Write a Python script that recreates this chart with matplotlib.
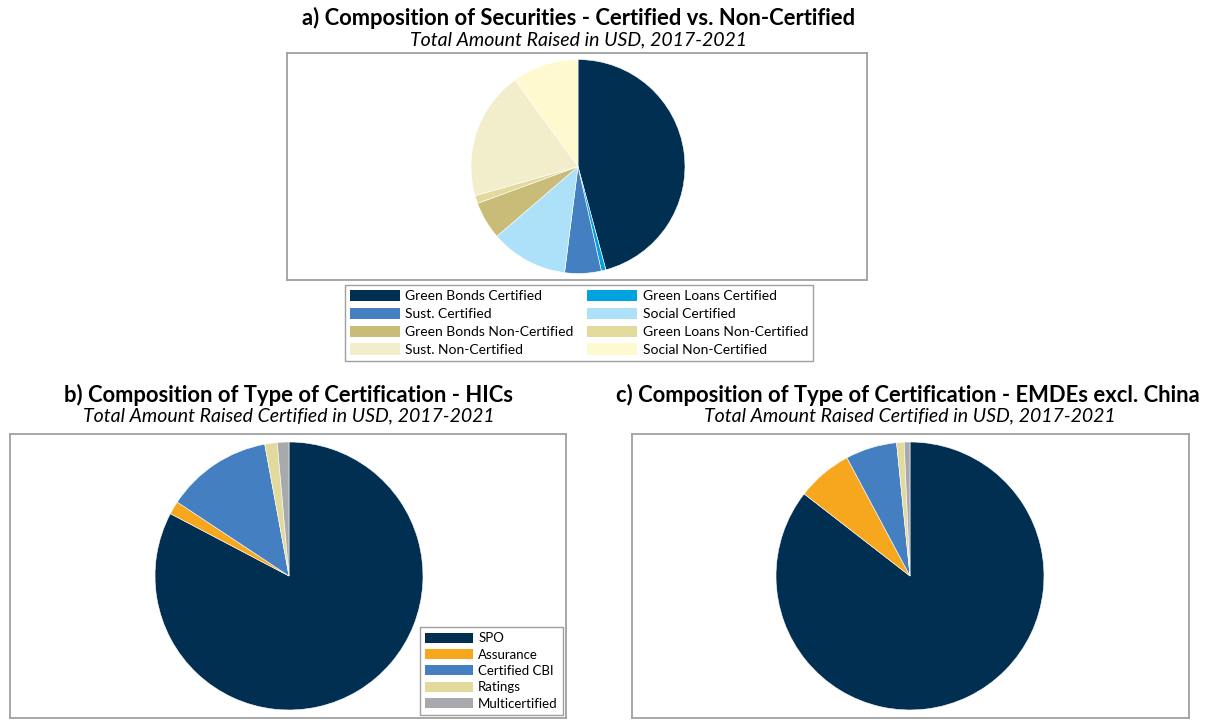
import matplotlib.pyplot as plt
from matplotlib.patches import Patch

plt.rcParams['font.family'] = ['Lato', 'DejaVu Sans']

# a) securities composition (share of total, %)
sec_labels = ['Green Bonds Certified', 'Green Loans Certified', 'Sust. Certified',
              'Social Certified', 'Green Bonds Non-Certified', 'Green Loans Non-Certified',
              'Sust. Non-Certified', 'Social Non-Certified']
sec_values = [45.8, 0.7, 5.5, 11.7, 5.7, 1.2, 19.4, 10.0]
sec_colors = ['#002f52', '#00a3e0', '#437fc1', '#ade1fa', '#c8bc78', '#e2da9c',
              '#f2eecb', '#fff9d0']

# b) / c) type of certification (%)
cert_labels = ['SPO', 'Assurance', 'Certified CBI', 'Ratings', 'Multicertified']
hic_values = [82.7, 1.6, 12.8, 1.5, 1.4]
emde_values = [85.5, 6.7, 6.2, 0.9, 0.7]
cert_colors = ['#002f52', '#f7a71d', '#437fc1', '#e2da9c', '#a8a9ad']

W, H = 1216, 720
fig = plt.figure(figsize=(12.16, 7.2), dpi=100)


def box(x0, y0, x1, y1):
    return fig.add_axes([x0 / W, 1 - y1 / H, (x1 - x0) / W, (y1 - y0) / H])


def draw_pie(ax, vals, cols, cx_px, x0, x1, y0, y1, r_px):
    ax.pie(vals, colors=cols, startangle=90, counterclock=False, radius=1,
           wedgeprops=dict(edgecolor='white', linewidth=0.4))
    s = 1.0 / r_px  # data units per pixel
    ax.set_xlim((x0 - cx_px) * s, (x1 - cx_px) * s)
    ax.set_ylim(-(y1 - y0) / 2 * s, (y1 - y0) / 2 * s)
    ax.set_aspect('auto')
    ax.set_frame_on(True)
    ax.set_xticks([])
    ax.set_yticks([])
    for sp in ax.spines.values():
        sp.set_visible(True)
        sp.set_color('#a0a0a0')
        sp.set_linewidth(1.3)


ax_a = box(287, 53, 867, 280)
draw_pie(ax_a, sec_values, sec_colors, 578, 287, 867, 53, 280, 107)

ax_b = box(10, 434, 566, 718)
draw_pie(ax_b, hic_values, cert_colors, 289, 10, 566, 434, 718, 134)

ax_c = box(632, 434, 1189, 718)
draw_pie(ax_c, emde_values, cert_colors, 910, 632, 1189, 434, 718, 134)

# titles
fig.text(579 / W, 1 - 18 / H, 'a) Composition of Securities - Certified vs. Non-Certified',
         ha='center', va='center', fontsize=15.8, fontweight='bold')
fig.text(579 / W, 1 - 40 / H, 'Total Amount Raised in USD, 2017-2021',
         ha='center', va='center', fontsize=14, style='italic')
fig.text(289 / W, 1 - 395 / H, 'b) Composition of Type of Certification - HICs',
         ha='center', va='center', fontsize=15.8, fontweight='bold')
fig.text(289 / W, 1 - 416 / H, 'Total Amount Raised Certified in USD, 2017-2021',
         ha='center', va='center', fontsize=14, style='italic')
fig.text(908 / W, 1 - 395 / H, 'c) Composition of Type of Certification - EMDEs excl. China',
         ha='center', va='center', fontsize=15.8, fontweight='bold')
fig.text(910 / W, 1 - 416 / H, 'Total Amount Raised Certified in USD, 2017-2021',
         ha='center', va='center', fontsize=14, style='italic')

# legend a: two columns, filled row by row
order = [0, 2, 4, 6, 1, 3, 5, 7]
handles = [Patch(facecolor=sec_colors[i], edgecolor='none') for i in order]
labels = [sec_labels[i] for i in order]
leg = fig.legend(handles, labels, ncol=2, loc='upper center',
                 bbox_to_anchor=(579 / W, 1 - 285 / H), fontsize=10,
                 handlelength=3.6, handleheight=0.9, handletextpad=0.4,
                 labelspacing=0.38, columnspacing=1.0, borderpad=0.35,
                 fancybox=False, framealpha=1, borderaxespad=0)
leg.get_frame().set_edgecolor('#a0a0a0')
leg.get_frame().set_linewidth(1.0)

# legend b
hb = [Patch(facecolor=c, edgecolor='none') for c in cert_colors]
legb = ax_b.legend(hb, cert_labels, loc='lower right',
                   bbox_to_anchor=((563 - 10) / 556, (718 - 715) / 284),
                   fontsize=9.5, handlelength=3.6, handleheight=0.8,
                   handletextpad=0.4, labelspacing=0.33, borderpad=0.4,
                   fancybox=False, framealpha=1, borderaxespad=0)
legb.get_frame().set_edgecolor('#a0a0a0')
legb.get_frame().set_linewidth(1.0)

fig.savefig('out.png', dpi=100)
